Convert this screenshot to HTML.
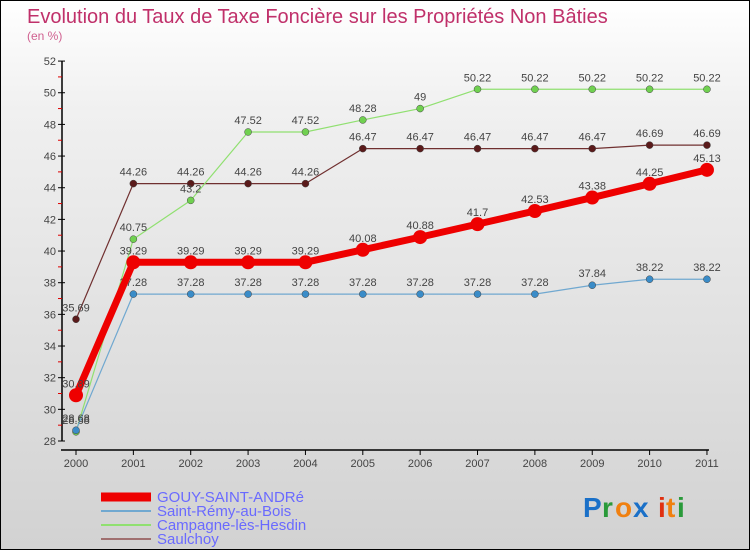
<!DOCTYPE html>
<html><head><meta charset="utf-8"><style>
body{margin:0}
#c{position:relative;width:748px;height:548px;border:1px solid #000;background:linear-gradient(#fff,#f0f0f0 20%,#d2d2d2);font-family:"Liberation Sans",sans-serif;overflow:hidden}
svg text{font-family:"Liberation Sans",sans-serif}
</style></head><body>
<div id="c">
<svg id="s" width="748" height="548">
<text x="26" y="22" font-size="20" fill="#c0306a">Evolution du Taux de Taxe Foncière sur les Propriétés Non Bâties</text>
<text x="26" y="39" font-size="12" fill="#d06090">(en %)</text>
<g id="axes"></g><g id="series"></g><g id="legend"></g>
<g font-size="28" font-weight="bold">
<text x="582" y="516" fill="#1a70c8">P</text><text x="601" y="516" fill="#2a9a3a">r</text><text x="614" y="516" fill="#f08010">o</text><text x="632" y="516" fill="#1a70c8">x</text><text x="657" y="516" fill="#e03010">i</text><text x="665" y="516" fill="#f08010">t</text><text x="676" y="516" fill="#2a9a3a">i</text></g>
</svg></div>
<script>
const years=[2000,2001,2002,2003,2004,2005,2006,2007,2008,2009,2010,2011];
const yTicks=[28,30,32,34,36,38,40,42,44,46,48,50,52];
const gouy=[30.89,39.29,39.29,39.29,39.29,40.08,40.88,41.7,42.53,43.38,44.25,45.13];
const remy=[28.68,37.28,37.28,37.28,37.28,37.28,37.28,37.28,37.28,37.84,38.22,38.22];
const camp=[28.58,40.75,43.2,47.52,47.52,48.28,49,50.22,50.22,50.22,50.22,50.22];
const saul=[35.69,44.26,44.26,44.26,44.26,46.47,46.47,46.47,46.47,46.47,46.69,46.69];
const names=["GOUY-SAINT-ANDRé","Saint-Rémy-au-Bois","Campagne-lès-Hesdin","Saulchoy"];
const NS="http://www.w3.org/2000/svg";
const X=i=>75+i*57.36, Y=v=>440-(v-28)*15.83;
function mk(t,a,p){const e=document.createElementNS(NS,t);for(const k in a)e.setAttribute(k,a[k]);p.appendChild(e);return e;}
const ax=document.getElementById('axes');
let l=mk('line',{x1:61,y1:Y(52),x2:61,y2:Y(28),stroke:'#000','stroke-width':1.5},ax);


l=mk('line',{x1:60,y1:449,x2:X(11)+2,y2:449,stroke:'#000','stroke-width':1.5},ax);


yTicks.forEach((v,i)=>{mk('line',{x1:57,y1:Y(v),x2:64,y2:Y(v),stroke:'#000'},ax);
 if(i<yTicks.length-1)mk('line',{x1:57,y1:Y(v+1),x2:61,y2:Y(v+1),stroke:'#d00'},ax);
 const t=mk('text',{x:55,y:Y(v)+4,'text-anchor':'end','font-size':11,fill:'#444'},ax);t.textContent=v;
 
 });
years.forEach((y,i)=>{mk('line',{x1:X(i),y1:449,x2:X(i),y2:454},ax);ax.lastChild.setAttribute('stroke','#000');
 const t=mk('text',{x:X(i),y:466,'text-anchor':'middle','font-size':11,fill:'#444'},ax);t.textContent=y;
 
 });
const sg=document.getElementById('series');
const defs=[[saul,'#703030','#5a1a1a',1.2,3.5],[camp,'#90e070','#70d050',1.2,3.5],[remy,'#70a8d0','#3a8cc8',1.2,3.5],[gouy,'#ee0000','#ee0000',7,7]];
const sn=['saulchoy','campagne','saint-remy','gouy'];
defs.forEach((d,k)=>{const g=mk('g',{},sg);
 
 
 mk('polyline',{points:d[0].map((v,i)=>X(i)+','+Y(v)).join(' '),fill:'none',stroke:d[1],'stroke-width':d[3],'stroke-linejoin':'round'},g);
 d[0].forEach((v,i)=>{const c=mk('circle',{cx:X(i),cy:Y(v),r:d[4],fill:d[2],stroke:k<3?'#444':'none','stroke-width':0.5},g);
  
  
  const t=mk('text',{x:X(i),y:Y(v)-8,'text-anchor':'middle','font-size':11,fill:'#444'},g);t.textContent=v;});});
const lg=document.getElementById('legend');
const lc=['#ee0000','#70a8d0','#90e070','#a07070'],lw=[9,2,2,2];
names.forEach((n,i)=>{const y=496+i*14;const g=mk('g',{},lg);
 
 
 mk('line',{x1:100,y1:y,x2:150,y2:y,stroke:lc[i],'stroke-width':lw[i]},g);
 const t=mk('text',{x:156,y:y+5,'font-size':15,fill:'#6a6aff'},g);t.textContent=n;});
</script></body></html>
